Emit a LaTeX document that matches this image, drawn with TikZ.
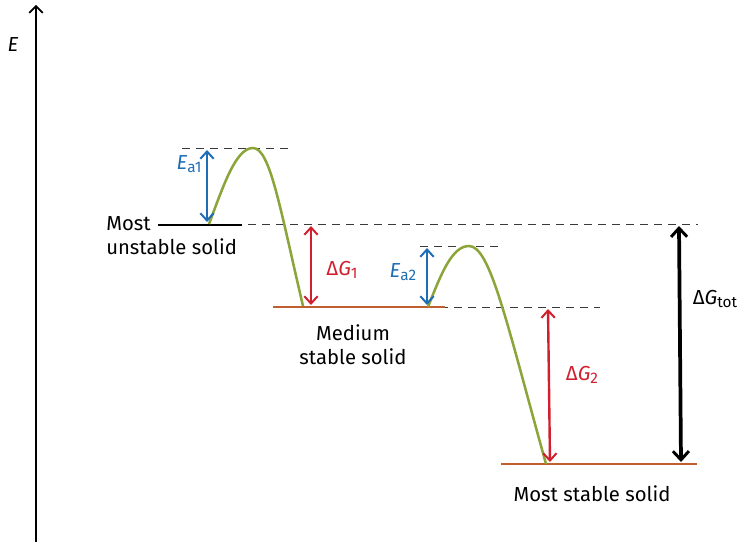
\documentclass[tikz,border=0pt]{standalone}
\usepackage{fontspec}
\setmainfont{Fira Sans}
\usetikzlibrary{arrows.meta, positioning}
\definecolor{BarrierGreen}{HTML}{8CA53A}
\definecolor{ActBlue}{HTML}{1F6DB5}
\definecolor{FreeRed}{HTML}{D0202E}
\definecolor{LevelBrown}{HTML}{BF5E2E}
\definecolor{GuideGray}{HTML}{3A3A3A}
\newcommand{\lowidx}[1]{\raisebox{-0.35ex}{\fontsize{11.5}{13}\selectfont #1}}

\begin{document}
\begin{tikzpicture}[x=0.75pt, y=-0.75pt, >={Straight Barb[length=5.5pt, width=10pt, line width=1.5pt]}, font=\fontsize{15.2}{18}\selectfont]
      \useasboundingbox (0,0) rectangle (739,542);
      \tikzset{guide/.style={draw=GuideGray, line width=0.75pt, dash pattern=on 6pt off 4.5pt}}

      % levels and barrier tops
      \coordinate (unst) at (209,224);
      \coordinate (med) at (428,307);
      \coordinate (stab) at (546,464);
      \coordinate (topA) at (253,148);
      \coordinate (topB) at (469,246);

      % dashed guides
      \draw[guide] (182,148) -- (290,148);
      \draw[guide] (192,224) -- (698,224);
      \draw[guide] (420,246) -- (500,246);
      \draw[guide] (398,307) -- (600,307);

      % energy axis
      \draw[->, line width=1.3pt, >={Straight Barb[length=5pt, width=10pt]}] (36,542) -- (36,5);
      \node[font=\itshape\fontsize{15.2}{18}\selectfont] (elabel) at (13,45) {E};

      % solid states
      \draw[line width=1.8pt, black] (158,225) -- (242,225);
      \draw[line width=1.8pt, LevelBrown] (273,307) -- (445,307);
      \draw[line width=1.8pt, LevelBrown] (501,464) -- (697,464);
      \node[anchor=north west, align=left, inner sep=0pt] (unstlbl) at (106,216) {Most\\unstable solid};
      \node[align=center, inner sep=0pt] (medlbl) at (353,345) {Medium\\stable solid};
      \node[inner sep=0pt] (stablbl) at (592,494) {Most stable solid};

      % barriers
      \draw[line width=1.9pt, BarrierGreen] (unst) .. controls (224,184) and (236,148) .. (topA) .. controls (270,148) and (280,208) .. (303,306);
      \draw[line width=1.9pt, BarrierGreen] (med) .. controls (441,274) and (452,246) .. (topB) .. controls (490,246) and (506,320) .. (stab);

      % energy differences
      \draw[<->, line width=1.8pt, ActBlue] (207,150) -- (207,222);
      \draw[<->, line width=1.8pt, ActBlue] (427,248) -- (427,305);
      \draw[<->, line width=1.8pt, FreeRed] (311,226) -- (311,305);
      \draw[<->, line width=1.8pt, FreeRed] (548,309) -- (550,462);
      \draw[<->, line width=2.8pt, black, >={Straight Barb[length=6.5pt, width=12pt, line width=2.2pt]}] (679,226) -- (681,462);

      \node[text=ActBlue] (ealbl) at (189,164) {\textit{E}\lowidx{a1}};
      \node[text=ActBlue] (eblbl) at (403,272) {\textit{E}\lowidx{a2}};
      \node[text=FreeRed] (galbl) at (342,270) {Δ\textit{G}\lowidx{1}};
      \node[text=FreeRed] (gblbl) at (582,375) {Δ\textit{G}\lowidx{2}};
      \node (gtotlbl) at (715,299) {Δ\textit{G}\lowidx{tot}};
    \end{tikzpicture}
\end{document}
